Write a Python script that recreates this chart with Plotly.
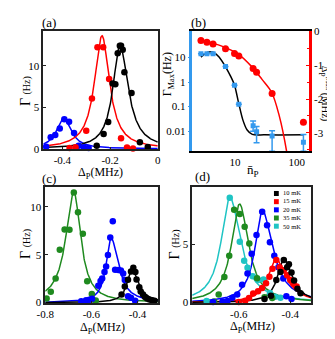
import numpy as np
import plotly.graph_objects as go

FONT = "Liberation Serif"
BLACK, RED, BLUE, GREEN, CYAN, LBLUE = "#000000", "#ff0000", "#0000ff", "#1f8a1f", "#1fc4c4", "#3399ee"

# ---------------- Panel (a) ----------------
a_black_x = [-0.256, -0.227, -0.208, -0.189, -0.178, -0.168, -0.159, -0.154, -0.147, -0.14, -0.11, -0.075, -0.042]
a_black_y = [0.38, 1.78, 3.21, 7.86, 7.75, 11.5, 12.4, 12.4, 11.9, 9.2, 6.7, 0.8, 0.23]
a_red_x = [-0.37, -0.345, -0.3, -0.276, -0.253, -0.229, -0.204, -0.154, -0.129, -0.104]
a_red_y = [0.1, 0.2, 2.16, 6.05, 12.2, 12.2, 8.4, 1.28, 0.15, 0.05]
a_blue_x = [-0.468, -0.449, -0.43, -0.411, -0.392, -0.372, -0.351, -0.332, -0.31, -0.29]
a_blue_y = [0.25, 1.4, 1.66, 2.44, 3.55, 3.25, 1.9, 0.38, 0.2, 0.1]
# Lorentzian fit parameters: (centre, amplitude, left HWHM, right HWHM)
a_fit_black = (-0.159, 12.5, 0.035, 0.042)
a_fit_red = (-0.234, 13.6, 0.038, 0.038)
a_fit_blue = (-0.395, 3.7, 0.036, 0.038)

# ---------------- Panel (b) ----------------
b_n = [2.8, 3.5, 4.4, 7.0, 9.8, 11.5, 19.6, 22.3, 39.8, 128]
b_delta_max = [-0.27, -0.32, -0.37, -0.51, -0.65, -0.73, -1.10, -1.21, -1.84, -2.69]
b_gamma_max = [14.4, 14.4, 14.4, 4.3, 0.75, 0.125, 0.0165, 0.0093, 0.0063, 0.0035]
b_err_plus = [0, 0, 0, 0, 0, 0, 0.009, 0.006, 0.0041, 0.0037]
b_err_minus = [0, 0, 0, 0, 0, 0, 0.0067, 0.006, 0.0048, 0.002]
# fitted curves
b_black_fit_n = [2.8, 3.3, 3.9, 4.5, 5.5, 7.0, 8.4, 9.8, 11.5, 13.4, 15.7, 19, 30, 131]
b_black_fit_g = [10.5, 15, 17.5, 16.3, 10.5, 4.2, 1.8, 0.75, 0.13, 0.028, 0.011, 0.0073, 0.007, 0.007]
b_red_fit_n = [2.8, 4.4, 7.0, 11.3, 18.1, 27.3, 39, 52, 68.4, 74]
b_red_fit_d = [-0.24, -0.35, -0.48, -0.67, -1.02, -1.42, -1.8, -2.5, -3.55, -4.0]

# ---------------- Panel (c) ----------------
c_green_x = [-0.794, -0.776, -0.755, -0.737, -0.716, -0.695, -0.676, -0.658, -0.637, -0.618, -0.598, -0.581]
c_green_y = [0.43, 1.14, 2.52, 5.52, 7.64, 7.6, 11.5, 9.43, 7.2, 2.22, 0.91, 0.23]
c_blue_x = [-0.644, -0.623, -0.609, -0.597, -0.57, -0.56, -0.553, -0.543, -0.536, -0.528, -0.518, -0.507,
            -0.497, -0.483, -0.472, -0.462, -0.455, -0.441, -0.428, -0.41]
c_blue_y = [0.15, 0.25, 0.3, 0.4, 1.75, 2.25, 2.52, 3.2, 3.77, 4.98, 6.8, 8.5,
            3.43, 3.4, 3.35, 3.03, 2.35, 0.67, 0.5, 0.2]
c_black_x = [-0.469, -0.455, -0.441, -0.428, -0.418, -0.409, -0.404, -0.392, -0.386, -0.376, -0.367,
             -0.358, -0.348, -0.337, -0.326]
c_black_y = [0.84, 1.68, 2.4, 3.25, 3.64, 3.2, 2.42, 1.6, 1.17, 0.84, 0.6, 0.43, 0.33, 0.26, 0.2]
c_fit_green = (-0.676, 11.55, 0.042, 0.036)
c_fit_blue = (-0.515, 6.8, 0.025, 0.038)
c_fit_black = (-0.425, 3.55, 0.024, 0.034)

# ---------------- Panel (d) ----------------
d_labels = ["10 mK", "15 mK", "20 mK", "35 mK", "50 mK"]
d_cyan_x = [-0.725, -0.635, -0.596, -0.579, -0.566, -0.546, -0.525, -0.504, -0.479, -0.459, -0.438]
d_cyan_y = [0.13, 9.03, 5.25, 3.6, 3.0, 2.28, 1.94, 2.0, 0.83, 0.5, 0.42]
d_green_x = [-0.696, -0.678, -0.656, -0.637, -0.618, -0.596, -0.577, -0.559, -0.529, -0.5, -0.47]
d_green_y = [0.1, 0.69, 2.2, 4.03, 8.0, 7.64, 6.53, 5.1, 2.1, 0.47, 0.4]
d_blue_x = [-0.7, -0.663, -0.644, -0.625, -0.606, -0.587, -0.566, -0.55, -0.531, -0.509, -0.49,
            -0.479, -0.462, -0.446, -0.427, -0.415, -0.395]
d_blue_y = [0.05, 0.1, 0.13, 0.42, 0.69, 1.53, 2.5, 4.22, 5.83, 7.83, 6.67, 5.2, 4.03, 3.05, 2.08, 0.55, 0.3]
d_red_x = [-0.6, -0.575, -0.56, -0.544, -0.525, -0.509, -0.494, -0.481, -0.469, -0.454, -0.441,
           -0.425, -0.412, -0.4, -0.387, -0.375]
d_red_y = [0.05, 0.15, 0.4, 0.78, 0.97, 1.25, 1.67, 2.22, 2.92, 3.67, 3.05, 2.78, 2.36, 1.94, 1.61, 1.39]
d_black_x = [-0.5, -0.475, -0.454, -0.438, -0.425, -0.412, -0.405, -0.395, -0.385, -0.372, -0.36]
d_black_y = [0.3, 0.6, 1.94, 2.64, 3.67, 3.05, 3.3, 2.6, 1.9, 1.2, 0.8]
d_fit_cyan = (-0.635, 9.1, 0.04, 0.05)
d_fit_green = (-0.597, 8.5, 0.038, 0.042)
d_fit_blue = (-0.509, 7.95, 0.034, 0.05)
d_fit_red = (-0.456, 3.75, 0.037, 0.049)
d_fit_black = (-0.425, 3.75, 0.03, 0.04)


def lorentz(x, c, amp, wl, wr):
    x = np.asarray(x)
    w = np.where(x < c, wl, wr)
    return amp / (1 + ((x - c) / w) ** 2)


fig = go.Figure()


def add_pts(x, y, color, xa, ya, size=6.5):
    fig.add_trace(go.Scatter(x=x, y=y, mode="markers", marker=dict(color=color, size=size),
                             xaxis=xa, yaxis=ya, showlegend=False, cliponaxis=False))


def add_fit(p, color, xa, ya, lo, hi):
    xs = np.linspace(lo, hi, 400)
    fig.add_trace(go.Scatter(x=xs, y=lorentz(xs, *p), mode="lines", line=dict(color=color, width=1.5),
                             xaxis=xa, yaxis=ya, showlegend=False))


# (a)
for p, col in [(a_fit_blue, BLUE), (a_fit_red, RED), (a_fit_black, BLACK)]:
    add_fit(p, col, "x", "y", -0.48, 0.0)
add_pts(a_blue_x, a_blue_y, BLUE, "x", "y")
add_pts(a_red_x, a_red_y, RED, "x", "y")
add_pts(a_black_x, a_black_y, BLACK, "x", "y")

# (b)
fig.add_trace(go.Scatter(x=b_red_fit_n, y=b_red_fit_d, mode="lines", line=dict(color=RED, width=1.5, shape="spline"),
                         xaxis="x2", yaxis="y3", showlegend=False))
fig.add_trace(go.Scatter(x=b_n, y=b_delta_max, mode="markers", marker=dict(color=RED, size=7),
                         xaxis="x2", yaxis="y3", showlegend=False, cliponaxis=False))
fig.add_trace(go.Scatter(x=b_black_fit_n, y=b_black_fit_g, mode="lines",
                         line=dict(color=BLACK, width=1.5, shape="spline", smoothing=0.8),
                         xaxis="x2", yaxis="y2", showlegend=False))
fig.add_trace(go.Scatter(x=b_n, y=b_gamma_max, mode="markers",
                         marker=dict(color=LBLUE, size=5, symbol="square"),
                         error_y=dict(type="data", symmetric=False, array=b_err_plus, arrayminus=b_err_minus,
                                      color=LBLUE, thickness=1.5, width=3),
                         xaxis="x2", yaxis="y2", showlegend=False))

# (c)
add_fit(c_fit_green, GREEN, "x4", "y4", -0.8, -0.309)
add_fit(c_fit_blue, BLUE, "x4", "y4", -0.8, -0.309)
add_fit(c_fit_black, BLACK, "x4", "y4", -0.8, -0.309)
add_pts(c_green_x, c_green_y, GREEN, "x4", "y4")
add_pts(c_blue_x, c_blue_y, BLUE, "x4", "y4")
add_pts(c_black_x, c_black_y, BLACK, "x4", "y4")

# (d)
d_sets = [(d_fit_cyan, d_cyan_x, d_cyan_y, CYAN), (d_fit_green, d_green_x, d_green_y, GREEN),
          (d_fit_blue, d_blue_x, d_blue_y, BLUE), (d_fit_red, d_red_x, d_red_y, RED),
          (d_fit_black, d_black_x, d_black_y, BLACK)]
for p, xs, ys, col in d_sets:
    add_fit(p, col, "x5", "y5", -0.781, -0.319)
for p, xs, ys, col in d_sets:
    add_pts(xs, ys, col, "x5", "y5")

W, H = 335, 339


def px(x):
    return x / W


def py(y):
    return 1 - y / H


tickfont = dict(family=FONT, size=11, color="black")
frame = dict(showline=True, mirror=True, linecolor="#222", linewidth=1.5, ticks="inside", ticklen=3,
             tickcolor="#222", showgrid=False, zeroline=False, tickfont=tickfont)

layout = dict(
    width=W, height=H, autosize=False, margin=dict(l=0, r=0, t=0, b=0),
    paper_bgcolor="white", plot_bgcolor="white", font=dict(family=FONT, color="black"),
    xaxis=dict(domain=[px(27.3), px(146)], range=[-0.48, 0.0], anchor="y",
               tickvals=[-0.4, -0.2, 0], ticktext=["-0.4", "-0.2", "0"], **frame),
    yaxis=dict(domain=[py(140), py(17.3)], range=[-0.08, 14.2], anchor="x",
               tickvals=[0, 5, 10], ticktext=["0", "5", "10"], **frame),
    xaxis2=dict(type="log", domain=[px(182), px(303)], range=[0.31, 2.2], anchor="y2",
                tickvals=[2, 10, 100], ticktext=["2", "10", "100"], showline=True, mirror=True,
                linecolor="black", linewidth=1.5, ticks="", showgrid=False, zeroline=False, tickfont=tickfont),
    yaxis2=dict(type="log", domain=[py(142), py(18)], range=[-2.83, 2.07], anchor="x2",
                tickvals=[0.01, 0.1, 1, 10], ticktext=["0.01", "0.1", "1", "10"], showline=True, mirror=False,
                linecolor=LBLUE, linewidth=2.5, ticks="outside", ticklen=2, tickcolor=LBLUE,
                showgrid=False, zeroline=False, tickfont=tickfont),
    yaxis3=dict(overlaying="y2", side="right", anchor="x2", range=[-3.55, 0],
                tickvals=[0, -1, -2, -3], ticktext=["0", "-1", "-2", "-3"], showline=True,
                linecolor=RED, linewidth=2.5, ticks="inside", ticklen=3, tickcolor=RED,
                minor=dict(dtick=0.5, ticks="inside", ticklen=2, tickcolor=RED),
                showgrid=False, zeroline=False, tickfont=tickfont),
    xaxis4=dict(domain=[px(29.3), px(146.7)], range=[-0.8, -0.309], anchor="y4",
                tickvals=[-0.8, -0.6, -0.4], ticktext=["-0.8", "-0.6", "-0.4"], **frame),
    yaxis4=dict(domain=[py(299), py(179)], range=[-0.07, 12.05], anchor="x4",
                tickvals=[0, 5, 10], ticktext=["0", "5", "10"], **frame),
    xaxis5=dict(domain=[px(181.7), px(305)], range=[-0.781, -0.319], anchor="y5",
                tickvals=[-0.6, -0.4], ticktext=["-0.6", "-0.4"], **frame),
    yaxis5=dict(domain=[py(299), py(179)], range=[-0.06, 9.95], anchor="x5",
                tickvals=[0, 5, 10], ticktext=["0", "5", "10"], **frame),
)

ann = []


def text(x, y, s, size=12, angle=0, xanchor="center"):
    ann.append(dict(x=px(x), y=py(y), xref="paper", yref="paper", text=s, showarrow=False,
                    textangle=angle, xanchor=xanchor, yanchor="middle",
                    font=dict(family=FONT, size=size, color="black")))


gam = "Γ <span style='font-size:10px'>(Hz)</span>"
dp = "Δ<sub>P</sub>(MHz)"
text(33, 9, "(a)", 13)
text(188, 9, "(b)", 13)
text(33, 170, "(c)", 13)
text(192, 168, "(d)", 13)
text(9, 80, gam, 14, -90)
text(87, 164.5, dp, 12)
text(157, 62, "Γ<sub>Max</sub>(Hz)", 12, -90)
text(245, 162, "n\u0304<sub>P</sub>", 13)
text(319, 82, "Δ<sub>P</sub><sup>Max</sup> (MHz)", 10.5, 90)
text(9, 238, gam, 14, -90)
text(89, 325, dp, 12)
text(163, 238, gam, 14, -90)
text(244, 324, dp, 12)

# legend of panel (d): one multi-line text block plus colour squares
LEG_FS = 6.5
row = 1.3 * LEG_FS
y_first = 185.5
shapes = []
leg_cols = [BLACK, RED, BLUE, GREEN, CYAN]
for i, col in enumerate(leg_cols):
    yc = y_first + i * row
    shapes.append(dict(type="rect", xref="paper", yref="paper", x0=px(266.5), x1=px(271.5),
                       y0=py(yc + 2.6), y1=py(yc - 2.6), fillcolor=col, line=dict(width=0)))
ann.append(dict(x=px(273.5), y=py(y_first + 2 * row), xref="paper", yref="paper",
                text="<br>".join(d_labels), showarrow=False, align="left",
                xanchor="left", yanchor="middle", font=dict(family=FONT, size=LEG_FS, color="black")))

layout["annotations"] = ann
layout["shapes"] = shapes
fig.update_layout(**layout)
fig.write_html("out.html")
